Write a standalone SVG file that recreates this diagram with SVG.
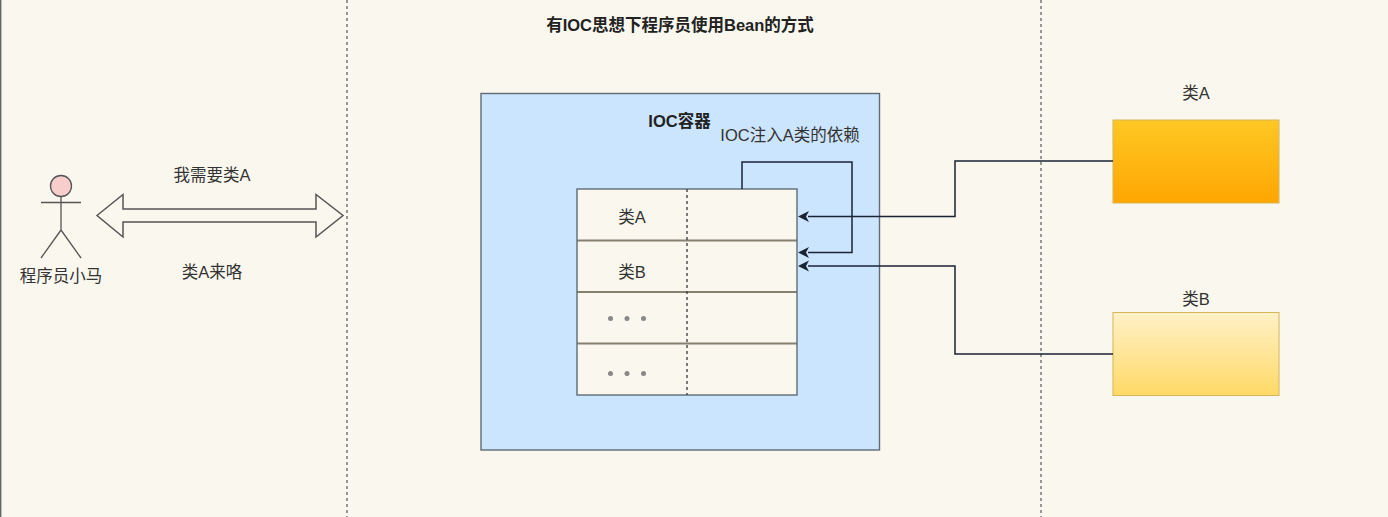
<svg xmlns="http://www.w3.org/2000/svg" width="1388" height="517" viewBox="0 0 1388 517">
<style>
text{font-family:"Liberation Sans","Noto Sans CJK SC",sans-serif;font-size:16.500px;fill:#333;text-anchor:middle}
.b{font-weight:bold;fill:#222}
.div{fill:none;stroke:#777;stroke-width:1.5;stroke-dasharray:3 3}
.cell{fill:none;stroke:#5f6b78;stroke-width:1.4}
.row{stroke:#85806f;stroke-width:2}
.con{fill:none;stroke:#1a2433;stroke-width:1.5}
.actor{fill:none;stroke:#555;stroke-width:1.3}
</style>
<defs>
<linearGradient id="ga" x1="0" y1="0" x2="0" y2="1"><stop offset="0" stop-color="#ffc825"/><stop offset="1" stop-color="#ffa500"/></linearGradient>
<linearGradient id="gb" x1="0" y1="0" x2="0" y2="1"><stop offset="0" stop-color="#fff1c8"/><stop offset="1" stop-color="#ffd966"/></linearGradient>
<marker id="ah" markerUnits="userSpaceOnUse" markerWidth="13" markerHeight="14" refX="2" refY="7" orient="auto"><path d="M1 1.500 L12 7 L1 12.500 L4 7 Z" fill="#1a2433"/></marker>
</defs>
<rect width="1388" height="517" fill="#faf7ee"/>
<path d="M0.700 0V517" stroke="#666" stroke-width="1.400" fill="none"/>
<g id="dividers"><path class="div" d="M347 0V517"/><path class="div" d="M1041 0V517"/></g>
<text id="title" class="b" x="680" y="31">有IOC思想下程序员使用Bean的方式</text>
<g id="ioc-container"><rect x="481" y="93.500" width="398.500" height="356.500" fill="#cce5ff" stroke="#5f6b78" stroke-width="1.400"/><text class="b" x="679.500" y="127">IOC容器</text></g>
<g id="bean-table">
<rect x="577" y="189" width="220" height="206" fill="#faf7ee"/>
<path class="row" d="M577 240.500H797M577 292H797M577 343.500H797"/>
<rect class="cell" x="577" y="189" width="220" height="206"/>
<path d="M687 189V395" fill="none" stroke="#444" stroke-width="1.400" stroke-dasharray="3 3"/>
<text x="632" y="223">类A</text><text x="632" y="278">类B</text>
<g fill="#888"><circle cx="610.500" cy="318.500" r="2.500"/><circle cx="627" cy="318.500" r="2.500"/><circle cx="643.500" cy="318.500" r="2.500"/><circle cx="610.500" cy="373.500" r="2.500"/><circle cx="627" cy="373.500" r="2.500"/><circle cx="643.500" cy="373.500" r="2.500"/></g>
</g>
<g id="actor">
<circle cx="61" cy="186" r="10.500" fill="#f8cecc" stroke="#555" stroke-width="1.300"/>
<path class="actor" d="M61 196.500V230M41 202.500H81M61 230L41 258M61 230L81 258"/>
<text x="61" y="282">程序员小马</text>
</g>
<g id="class-a"><text x="1196" y="99">类A</text><rect x="1113" y="120" width="166" height="83" fill="url(#ga)" stroke="#d6b656" stroke-width="1"/></g>
<g id="class-b"><text x="1196" y="305">类B</text><rect x="1113" y="312.500" width="166" height="83" fill="url(#gb)" stroke="#d6b656" stroke-width="1"/></g>
<g id="connectors">
<path d="M97 215.500L123 194.500V209H316V194.500L343 215.500L316 237V222H123V237Z" fill="#faf7ee" stroke="#555" stroke-width="1.500"/>
<path class="con" d="M1113 161H955V216.500H808" marker-end="url(#ah)"/>
<path class="con" d="M1113 354H955V266H808" marker-end="url(#ah)"/>
<path class="con" d="M742 189V162H852V252.500H808" marker-end="url(#ah)"/>
</g>
<text x="212" y="181">我需要类A</text>
<text x="212" y="278">类A来咯</text>
<text x="790" y="141">IOC注入A类的依赖</text>
</svg>
